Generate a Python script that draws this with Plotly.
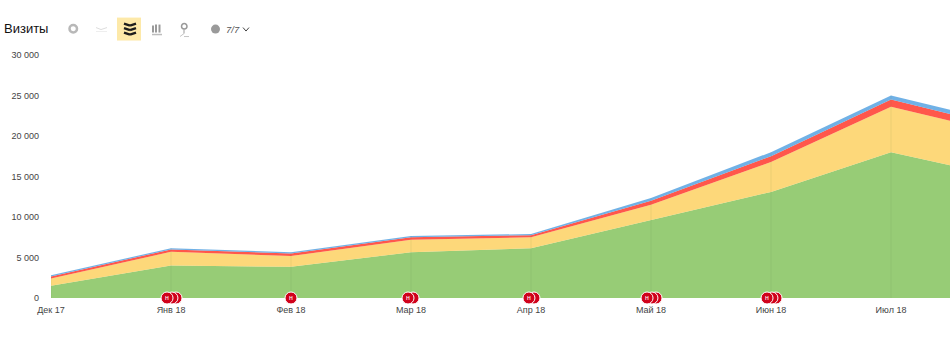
import plotly.graph_objects as go

months = ["Дек 17", "Янв 18", "Фев 18", "Мар 18", "Апр 18", "Май 18", "Июн 18", "Июл 18", "Авг 18"]
month_pos = list(range(9))
green = [1500, 4000, 3850, 5650, 6150, 9600, 13100, 18000, 14700]
yellow = [900, 1700, 1350, 1550, 1350, 1900, 3700, 5600, 5400]
red = [250, 300, 300, 300, 250, 500, 700, 900, 800]
blue = [150, 150, 150, 150, 150, 350, 500, 500, 500]
y_ticks = [0, 5000, 10000, 15000, 20000, 25000, 30000]
y_labels = ["0", "5 000", "10 000", "15 000", "20 000", "25 000", "30 000"]
note_groups = [[1.042, 1.008, 0.967], [2.0], [3.017, 2.975], [4.025, 3.983],
               [5.042, 5.008, 4.967], [6.042, 6.008, 5.967]]

L, R, T, B = 51, 950, 54.5, 298
W, H = 950, 351


def px(x):
    return (x - L) / (R - L)


def py(y):
    return (B - y) / (B - T)


fig = go.Figure()
series = [("Зелёный", green, "rgba(122,190,80,0.78)"),
          ("Жёлтый", yellow, "rgba(252,205,85,0.78)"),
          ("Красный", red, "rgba(255,50,35,0.82)"),
          ("Синий", blue, "rgba(80,160,225,0.82)")]
for name, vals, col in series:
    fig.add_trace(go.Scatter(x=month_pos, y=vals, name=name, stackgroup="s", mode="lines",
                             line=dict(width=0), fillcolor=col, hoverinfo="skip"))

# faint month lines that only show inside the filled area
totals = [a + b + c + d for a, b, c, d in zip(green, yellow, red, blue)]
fig.add_trace(go.Scatter(x=month_pos, y=totals, mode="markers", marker=dict(size=1, opacity=0), hoverinfo="skip",
                         error_y=dict(type="data", symmetric=False, array=[0] * 9, arrayminus=totals,
                                      color="rgba(90,120,60,0.10)", thickness=1, width=0)))

notes = [v for g in note_groups for v in g]
firsts = [g[-1] for g in note_groups]
fig.add_trace(go.Scatter(x=[v - 0.025 for v in firsts], y=[-1.9] * len(firsts), mode="markers", cliponaxis=False, yaxis="y2",
                         marker=dict(size=6, color="#d0021b", symbol="triangle-down"), hoverinfo="skip"))
fig.add_trace(go.Scatter(x=notes, y=[0] * len(notes), mode="markers", cliponaxis=False, yaxis="y2",
                         marker=dict(size=12, color="#d0021b", line=dict(width=1, color="white")),
                         hoverinfo="skip"))
fig.add_trace(go.Scatter(x=firsts, y=[0] * len(firsts), mode="text", text=["н"] * len(firsts), cliponaxis=False, yaxis="y2",
                         textfont=dict(size=7, color="white", family="Liberation Sans"), hoverinfo="skip"))

shapes = []


def rect(x0, y0, x1, y1, color):
    shapes.append(dict(type="rect", xref="paper", yref="paper", x0=px(x0), x1=px(x1), y0=py(y0), y1=py(y1),
                       fillcolor=color, line=dict(width=0), layer="above"))


def line(x0, y0, x1, y1, color, w=1.0):
    shapes.append(dict(type="line", xref="paper", yref="paper", x0=px(x0), x1=px(x1), y0=py(y0), y1=py(y1),
                       line=dict(color=color, width=w), layer="above"))


def circle(x0, y0, x1, y1, fill, lc=None, w=0):
    shapes.append(dict(type="circle", xref="paper", yref="paper", x0=px(x0), x1=px(x1), y0=py(y0), y1=py(y1),
                       fillcolor=fill, line=dict(width=w, color=lc or fill), layer="above"))


# toolbar
circle(69.5, 24.5, 77, 32, "rgba(0,0,0,0)", "#b8b8b8", 2.5)
line(96, 27, 101, 29, "#dddddd")
line(101, 29, 107, 27, "#dddddd")
line(96, 31, 107, 31, "#eeeeee")
rect(117, 17, 141, 40, "#fde9a9")
for y in (23, 27.5, 32):
    line(124, y, 130, y + 2, "#1c1c1c", 2.4)
    line(130, y + 2, 136, y, "#1c1c1c", 2.4)
for x, a, b in [(153, 25, 32), (156, 24, 32), (159.5, 24, 32)]:
    line(x, a, x, b, "#9a9a9a", 2)
line(152, 34, 162, 34, "#bdbdbd", 1.5)
circle(181.5, 23, 187, 28.5, "rgba(0,0,0,0)", "#9a9a9a", 1.5)
line(184, 29, 184, 33, "#9a9a9a")
line(180, 36, 184, 33, "#c5c5c5")
line(184, 36, 189, 36, "#c5c5c5")
circle(211, 24, 220, 33, "#9a9a9a")
line(243, 27, 246, 30.5, "#444444")
line(246, 30.5, 249, 27, "#444444")

annotations = [
    dict(text="Визиты", xref="paper", yref="paper", x=px(2), y=py(28), xanchor="left", yanchor="middle",
         showarrow=False, font=dict(size=13, color="#111111", family="Liberation Sans")),
    dict(text="<i>7/7</i>", xref="paper", yref="paper", x=px(223.5), y=py(28.5), xanchor="left", yanchor="middle",
         showarrow=False, font=dict(size=9.5, color="#555555", family="Liberation Sans")),
]

fig.update_layout(
    width=W, height=H, margin=dict(l=L, r=W - R, t=T, b=H - B), showlegend=False,
    plot_bgcolor="white", paper_bgcolor="white",
    font=dict(family="Liberation Sans", size=9, color="#444444"),
    shapes=shapes, annotations=annotations,
    xaxis=dict(range=[0, (R - L) / 120], tickvals=month_pos, ticktext=months, showline=False, zeroline=False,
               showgrid=False, ticks="", tickangle=0, ticklabelstandoff=5),
    yaxis=dict(range=[0, 30000], tickvals=y_ticks, ticktext=y_labels, showline=False, zeroline=False,
               showgrid=False, ticks="", ticklabelstandoff=11),
    yaxis2=dict(range=[0, 100], overlaying="y", visible=False),
)
fig.write_html("out.html", post_script="document.body.style.margin='0';", config={"displayModeBar": False})
